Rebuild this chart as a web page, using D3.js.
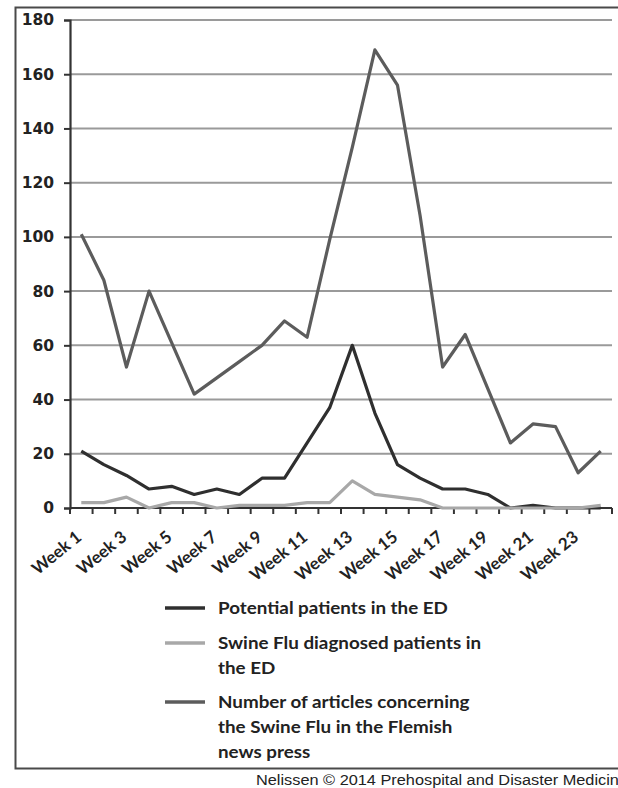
<!DOCTYPE html>
<html>
<head>
<meta charset="utf-8">
<script src="https://cdn.jsdelivr.net/npm/d3@7"></script>
<style>
  html, body { margin: 0; padding: 0; background: #fff; }
  svg { display: block; }
</style>
</head>
<body>
<svg id="chart" width="618" height="788"></svg>
<script>
const weeks = ["Week 1","Week 2","Week 3","Week 4","Week 5","Week 6","Week 7","Week 8","Week 9","Week 10","Week 11","Week 12","Week 13","Week 14","Week 15","Week 16","Week 17","Week 18","Week 19","Week 20","Week 21","Week 22","Week 23","Week 24"];
const potentialPatients = [21,16,12,7,8,5,7,5,11,11,24,37,60,35,16,11,7,7,5,0,1,0,0,0];
const swineFluPatients = [2,2,4,0,2,2,0,1,1,1,2,2,10,5,4,3,0,0,0,0,0,0,0,1];
const articles = [101,84,52,80,61,42,48,54,60,69,63,99,133,169,156,108,52,64,44,24,31,30,13,21];
const yTicks = [0,20,40,60,80,100,120,140,160,180];
const seriesNames = ["Potential patients in the ED","Swine Flu diagnosed patients in the ED","Number of articles concerning the Swine Flu in the Flemish news press"];
const legendLines = [["Potential patients in the ED"],["Swine Flu diagnosed patients in","the ED"],["Number of articles concerning","the Swine Flu in the Flemish","news press"]];
const footer = "Nelissen \u00A9 2014 Prehospital and Disaster Medicine";

const svg = d3.select("#chart");
svg.append("rect").attr("width",618).attr("height",788).attr("fill","#fff");

// frame
svg.append("path")
  .attr("d","M640,7.5 H15.5 V768.5 H640")
  .attr("fill","none").attr("stroke","#4a4a4a").attr("stroke-width",2);

const x = d3.scaleBand().domain(weeks).range([70,612]);
const y = d3.scaleLinear().domain([0,180]).range([508,20]);
const cx = d => x(d) + x.bandwidth()/2;

// gridlines
svg.append("g").selectAll("line").data(yTicks.filter(t=>t>0)).join("line")
  .attr("x1",70).attr("x2",612)
  .attr("y1",d=>y(d)).attr("y2",d=>y(d))
  .attr("stroke","#9a9a9a").attr("stroke-width",2);

// y axis
const yAxis = svg.append("g").attr("transform","translate(70,0)")
  .call(d3.axisLeft(y).tickValues(yTicks).tickSize(6).tickPadding(10).tickFormat(d3.format("d")));
yAxis.select(".domain").attr("stroke","#333").attr("stroke-width",2.2);
yAxis.selectAll(".tick line").attr("stroke","#333").attr("stroke-width",2);
yAxis.selectAll("text").attr("font-family","DejaVu Sans").attr("font-weight","bold")
  .attr("font-size","15.5px").attr("fill","#222");

// x axis line and ticks at boundaries
const boundaries = weeks.map(w=>x(w)).concat([612]);
svg.append("line").attr("x1",70).attr("x2",612).attr("y1",508).attr("y2",508)
  .attr("stroke","#333").attr("stroke-width",2.2);
svg.append("g").selectAll("line").data(boundaries).join("line")
  .attr("x1",d=>d).attr("x2",d=>d).attr("y1",508).attr("y2",514)
  .attr("stroke","#333").attr("stroke-width",2);

// x labels (odd weeks)
svg.append("g").selectAll("text").data(weeks.filter((w,i)=>i%2===0)).join("text")
  .attr("transform",d=>`translate(${cx(d)+1.5},539) rotate(-39)`)
  .attr("text-anchor","end")
  .attr("font-family","Lato").attr("font-weight","bold").attr("font-size","17px").attr("fill","#222")
  .text(d=>d);

// lines
const line = d3.line().x((d,i)=>cx(weeks[i])).y(d=>y(d));
const series = [
  {vals: potentialPatients, color:"#2f2f2f"},
  {vals: swineFluPatients, color:"#a8a8a8"},
  {vals: articles, color:"#5c5c5c"}
];
svg.append("g").selectAll("path").data(series).join("path")
  .attr("d",d=>line(d.vals)).attr("fill","none")
  .attr("stroke",d=>d.color).attr("stroke-width",3.2)
  .attr("stroke-linejoin","round");

// legend
const legendY = [608,643,702];
const lg = svg.append("g");
series.forEach((s,i)=>{
  lg.append("line").attr("x1",165).attr("x2",205).attr("y1",legendY[i]).attr("y2",legendY[i])
    .attr("stroke",s.color).attr("stroke-width",3.5);
  legendLines[i].forEach((t,j)=>{
    lg.append("text").attr("transform",`translate(218,${legendY[i]+6+j*25}) scale(1.075,1)`)
      .attr("font-family","Lato").attr("font-weight","bold").attr("font-size","17.5px").attr("fill","#222")
      .text(t);
  });
});

// footer
svg.append("text").attr("x",256).attr("y",785)
  .attr("font-family","Liberation Sans, Arial").attr("font-size","14px").attr("fill","#222")
  .attr("textLength",372).attr("lengthAdjust","spacingAndGlyphs")
  .text(footer);
</script>
</body>
</html>
